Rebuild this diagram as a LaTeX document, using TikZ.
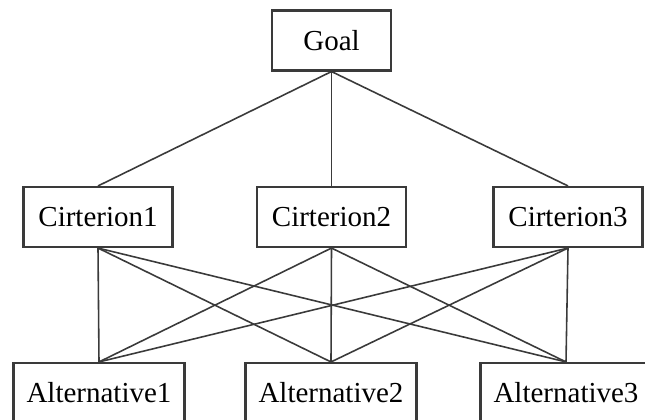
\documentclass[tikz,border=0pt]{standalone}
\usepackage{fontspec}
\setmainfont{Liberation Serif}
\definecolor{boxgray}{HTML}{3A3A3A}
\tikzset{
  level/.style={draw=boxgray,line width=1.2pt,inner sep=0pt,minimum height=1.2cm,font=\fontsize{16.5}{20}\selectfont},
  link/.style={draw=boxgray,line width=0.9pt}
}
\begin{document}
\begin{tikzpicture}
    \useasboundingbox (0,0) rectangle (12.9,8.4);
    \node[level,minimum width=2.38cm] (goal) at (6.63,7.59) {Goal};
    \node[level,minimum width=2.98cm] (crit1) at (1.96,4.06) {Cirterion1};
    \node[level,minimum width=2.98cm] (crit2) at (6.63,4.06) {Cirterion2};
    \node[level,minimum width=2.98cm] (crit3) at (11.36,4.06) {Cirterion3};
    \node[level,minimum width=3.42cm] (alt1) at (1.98,0.54) {Alternative1};
    \node[level,minimum width=3.42cm] (alt2) at (6.62,0.54) {Alternative2};
    \node[level,minimum width=3.42cm] (alt3) at (11.32,0.54) {Alternative3};
    \draw[link] (goal.south) -- (crit1.north);
    \draw[link] (goal.south) -- (crit2.north);
    \draw[link] (goal.south) -- (crit3.north);
    \draw[link] (crit1.south) -- (alt1.north);
    \draw[link] (crit1.south) -- (alt2.north);
    \draw[link] (crit1.south) -- (alt3.north);
    \draw[link] (crit2.south) -- (alt1.north);
    \draw[link] (crit2.south) -- (alt2.north);
    \draw[link] (crit2.south) -- (alt3.north);
    \draw[link] (crit3.south) -- (alt1.north);
    \draw[link] (crit3.south) -- (alt2.north);
    \draw[link] (crit3.south) -- (alt3.north);
\end{tikzpicture}
\end{document}
